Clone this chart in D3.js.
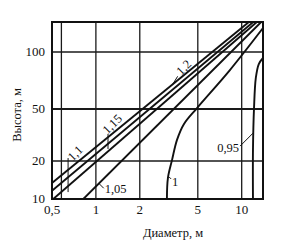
<!DOCTYPE html>
<html>
<head>
<meta charset="utf-8">
<script src="https://cdn.jsdelivr.net/npm/d3@7"></script>
<style>
  body { margin: 0; background: #fff; }
  text { font-family: "Liberation Serif", "DejaVu Serif", serif; fill: #111; }
</style>
</head>
<body>
<div id="chart"></div>
<script>
// chart data: diameter (m) vs height (m), curves of constant coefficient
var xTicks = [0.5, 1, 2, 5, 10];
var xTickLabels = ["0,5", "1", "2", "5", "10"];
var xGrid = [0.58, 1, 2, 5, 10];
var yTicks = [10, 20, 50, 100];
var yTickLabels = ["10", "20", "50", "100"];
var yGrid = [20, 50, 100];

// straight lines: [diameter, height] at both ends
var lineNames = ["1,2", "1,15", "1,1", "1,05"];
var lineStarts = [[0.5, 13.4], [0.5, 11.6], [0.51, 10], [0.82, 10]];
var lineEnds = [[11.2, 145], [12.0, 145], [12.7, 145], [13.6, 145]];

// curved lines
var curveOne = [[3.07, 10], [3.12, 14.7], [3.33, 20.4], [3.6, 29], [4.02, 38.4],
                [4.94, 50.6], [8.3, 80.3], [14, 134.6]];
var curveNinetyFive = [[11.95, 10], [11.95, 24.3], [12.15, 50.6], [12.5, 72.9],
                       [13.1, 86.4], [14, 93]];

// label anchors [diameter, height]
var labelNames = ["1,1", "1,15", "1,2", "1,05", "1", "0,95"];
var labelAnchors = [[0.72, 23], [1.29, 38.4], [4.0, 83], [1.15, 11.1], [3.33, 12.7], [9.6, 23.4]];

var svgWidth = 285;
var svgHeight = 243;

var svg = d3.select("#chart")
            .append("svg")
            .attr("width", svgWidth)
            .attr("height", svgHeight);

var x = d3.scaleLog().domain([0.5, 14]).range([52, 263]);
// the printed height axis is not evenly spaced, so map it piece by piece
var y = d3.scaleLog().domain([10, 20, 50, 100, 145]).range([199, 161, 109, 52, 22]);

// grid
svg.selectAll(".vgrid")
   .data(xGrid)
   .enter()
   .append("line")
   .attr("x1", d => x(d)).attr("x2", d => x(d))
   .attr("y1", y(145)).attr("y2", y(10))
   .attr("stroke", "#1a1a1a")
   .attr("stroke-width", 1.3);

svg.selectAll(".hgrid")
   .data(yGrid)
   .enter()
   .append("line")
   .attr("x1", x(0.5)).attr("x2", x(14))
   .attr("y1", d => y(d)).attr("y2", d => y(d))
   .attr("stroke", "#1a1a1a")
   .attr("stroke-width", d => d == 50 ? 1.8 : 1.3);

// frame
svg.append("rect")
   .attr("x", x(0.5))
   .attr("y", y(145))
   .attr("width", x(14) - x(0.5))
   .attr("height", y(10) - y(145))
   .attr("fill", "none")
   .attr("stroke", "#111")
   .attr("stroke-width", 2);

// tick labels
svg.selectAll(".xlab")
   .data(xTicks)
   .enter()
   .append("text")
   .attr("x", d => x(d))
   .attr("y", y(10) + 15)
   .attr("text-anchor", "middle")
   .attr("font-size", "13px")
   .text((d, i) => xTickLabels[i]);

svg.selectAll(".ylab")
   .data(yTicks)
   .enter()
   .append("text")
   .attr("x", 45)
   .attr("y", d => y(d) + 4)
   .attr("text-anchor", "end")
   .attr("font-size", "13px")
   .text((d, i) => yTickLabels[i]);

// axis titles
svg.append("text")
   .attr("x", 173)
   .attr("y", 237)
   .attr("text-anchor", "middle")
   .attr("font-size", "12.5px")
   .text("Диаметр, м");

svg.append("text")
   .attr("transform", "rotate(-90)")
   .attr("x", -115)
   .attr("y", 21)
   .attr("text-anchor", "middle")
   .attr("font-size", "12.5px")
   .text("Высота, м");

// clip to the frame
svg.append("clipPath")
   .attr("id", "plotclip")
   .append("rect")
   .attr("x", x(0.5)).attr("y", y(145))
   .attr("width", x(14) - x(0.5)).attr("height", y(10) - y(145));

var plot = svg.append("g").attr("clip-path", "url(#plotclip)");

plot.selectAll(".coef")
    .data(lineNames)
    .enter()
    .append("line")
    .attr("x1", (d, i) => x(lineStarts[i][0]))
    .attr("y1", (d, i) => y(lineStarts[i][1]))
    .attr("x2", (d, i) => x(lineEnds[i][0]))
    .attr("y2", (d, i) => y(lineEnds[i][1]))
    .attr("stroke", "#111")
    .attr("stroke-width", 1.9);

var curveLine = d3.line()
    .x(d => x(d[0]))
    .y(d => y(d[1]))
    .curve(d3.curveCatmullRom);

[curveOne, curveNinetyFive].forEach(function(c) {
    plot.append("path")
        .attr("d", curveLine(c))
        .attr("fill", "none")
        .attr("stroke", "#111")
        .attr("stroke-width", 1.9);
});

// curve labels with leader strokes (offsets in pixels from the anchor)
var labelStyle = [
    {rot: -45, anchor: "middle", leader: [-7, 5, -7, 39]},
    {rot: -45, anchor: "middle", leader: [-4, 10, -4, 25]},
    {rot: -45, anchor: "middle", leader: [-6, 9, -11, 17]},
    {rot: 0, anchor: "start", leader: [-1, -5, -6, -10]},
    {rot: 0, anchor: "start", leader: [-1, -7, -3, -9]},
    {rot: 0, anchor: "end", leader: [1, -6, 14, -19]}
];

labelNames.forEach(function(name, i) {
    var px = x(labelAnchors[i][0]);
    var py = y(labelAnchors[i][1]);
    var st = labelStyle[i];
    svg.append("text")
       .attr("transform", `translate(${px}, ${py}) rotate(${st.rot})`)
       .attr("text-anchor", st.anchor)
       .attr("dy", st.rot ? "0.35em" : "0")
       .attr("font-size", "12.5px")
       .text(name);
    svg.append("line")
       .attr("x1", px + st.leader[0]).attr("y1", py + st.leader[1])
       .attr("x2", px + st.leader[2]).attr("y2", py + st.leader[3])
       .attr("stroke", "#111")
       .attr("stroke-width", 1);
});
</script>
</body>
</html>
